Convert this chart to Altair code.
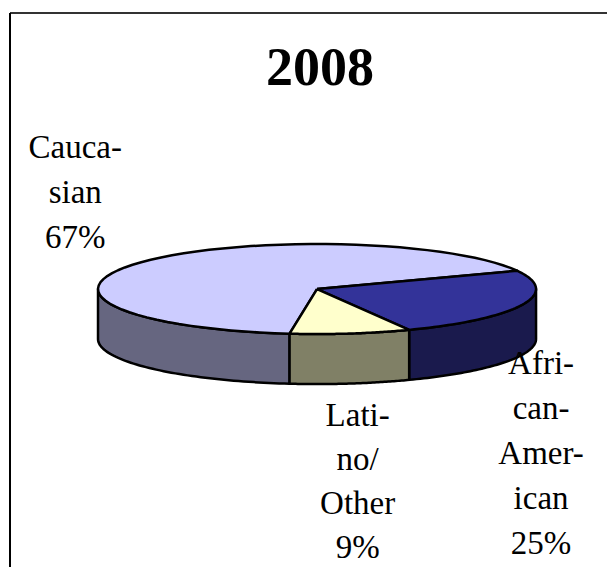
import altair as alt
import pandas as pd

# ---- data ----
title_text = "2008"
categories = ["Caucasian", "African-American", "Latino/Other"]
values = [67, 25, 9]
label_texts = ["Cauca-\nsian\n67%", "Afri-\ncan-\nAmer-\nican\n25%", "Lati-\nno/\nOther\n9%"]

# ---- styles ----
top_colors = ["#ccccff", "#333399", "#ffffcc"]
side_colors = ["#666680", "#1a1a4d", "#808066"]
label_offsets = {"Caucasian": (-66, -104), "African-American": (19, 69), "Latino/Other": (7, 92)}
label_line_heights = {"Caucasian": 45, "African-American": 45, "Latino/Other": 44}

START = 97.2      # first slice angle, degrees clockwise from 3 o'clock
TILT = 0.2055     # ellipse minor/major ratio
DEPTH = 0.2283    # wall depth in units of major radius
N = 60
W, H = 599, 559
XDOM = [-1.411, 1.324]
YDOM = [-1.269, 1.283]

df = pd.DataFrame({"category": categories, "value": values,
                   "order": list(range(len(categories))), "label": label_texts})

xenc = alt.X("px:Q", scale=alt.Scale(domain=XDOM, nice=False, zero=False), axis=None)
yenc = alt.Y("py:Q", scale=alt.Scale(domain=YDOM, nice=False, zero=False), axis=None, stack=None)

base = (
    alt.Chart(df)
    .transform_window(cum="sum(value)", sort=[alt.SortField("order")], frame=[None, 0])
    .transform_joinaggregate(total="sum(value)")
    .transform_calculate(
        a0=f"{START} + (datum.cum - datum.value) / datum.total * 360",
        a1=f"{START} + datum.cum / datum.total * 360",
    )
)

side = (
    base.transform_calculate(part="[0, 1]")
    .transform_flatten(["part"])
    .transform_calculate(
        ws="datum.part == 0 ? max(datum.a0, 0) : max(datum.a0, 360)",
        we="datum.part == 0 ? min(datum.a1, 180) : min(datum.a1, 540)",
    )
    .transform_filter("datum.we > datum.ws")
    .transform_calculate(step=f"sequence(0, {N + 1})")
    .transform_flatten(["step"])
    .transform_calculate(
        ang=f"(datum.ws + (datum.we - datum.ws) * datum.step / {N}) * PI / 180",
    )
    .transform_calculate(
        px="cos(datum.ang)",
        py=f"-sin(datum.ang) * {TILT}",
        py2=f"-sin(datum.ang) * {TILT} - {DEPTH}",
    )
    .mark_area(stroke="black", strokeWidth=2.5, strokeJoin="round", orient="vertical")
    .encode(
        x=xenc, y=yenc, y2="py2:Q",
        color=alt.Color("category:N", scale=alt.Scale(domain=categories, range=side_colors), legend=None),
        detail=["category:N", "part:N"],
    )
)

top = (
    base.transform_calculate(step=f"sequence(-1, {N + 2})")
    .transform_flatten(["step"])
    .transform_calculate(
        ang=f"(datum.a0 + (datum.a1 - datum.a0) * clamp(datum.step, 0, {N}) / {N}) * PI / 180",
        isc=f"datum.step < 0 || datum.step > {N}",
    )
    .transform_calculate(
        px="datum.isc ? 0 : cos(datum.ang)",
        py=f"datum.isc ? 0 : -sin(datum.ang) * {TILT}",
    )
    .mark_line(filled=True, stroke="black", strokeWidth=2.5, strokeJoin="round")
    .encode(
        x=xenc, y=yenc,
        color=alt.Color("category:N", scale=alt.Scale(domain=categories, range=top_colors), legend=None),
        detail="category:N",
        order="step:Q",
    )
)

labels = []
for cat in categories:
    dx, dy = label_offsets[cat]
    labels.append(
        base.transform_filter(alt.datum.category == cat)
        .transform_calculate(
            ang="(datum.a0 + datum.a1) / 2 * PI / 180",
        )
        .transform_calculate(px="cos(datum.ang)", py=f"-sin(datum.ang) * {TILT}")
        .mark_text(font="Liberation Serif", fontSize=33, lineHeight=label_line_heights[cat],
                   align="center", baseline="alphabetic", lineBreak="\n", dx=dx, dy=dy,
                   color="black")
        .encode(x=xenc, y=yenc, text="label:N")
    )

title = (
    alt.Chart(pd.DataFrame({"t": [title_text]}))
    .mark_text(font="Liberation Serif", fontSize=54, fontWeight="bold", align="center",
               baseline="alphabetic", color="black")
    .encode(x=alt.value(312), y=alt.value(77), text="t:N")
)

border_top = alt.Chart(pd.DataFrame({"a": [0]})).mark_rule(color="#333333", strokeWidth=2).encode(
    x=alt.value(2), x2=alt.value(W), y=alt.value(5))
border_left = alt.Chart(pd.DataFrame({"a": [0]})).mark_rule(color="black", strokeWidth=2).encode(
    x=alt.value(2), y=alt.value(5), y2=alt.value(H))

chart = (
    alt.layer(side, top, *labels, title, border_top, border_left)
    .resolve_scale(color="independent")
    .properties(width=W, height=H, padding=0, autosize=alt.AutoSizeParams(type="none"),
                background="white")
    .configure_view(stroke=None)
)

chart.save("out.html", embed_options={"renderer": "svg", "actions": False})
